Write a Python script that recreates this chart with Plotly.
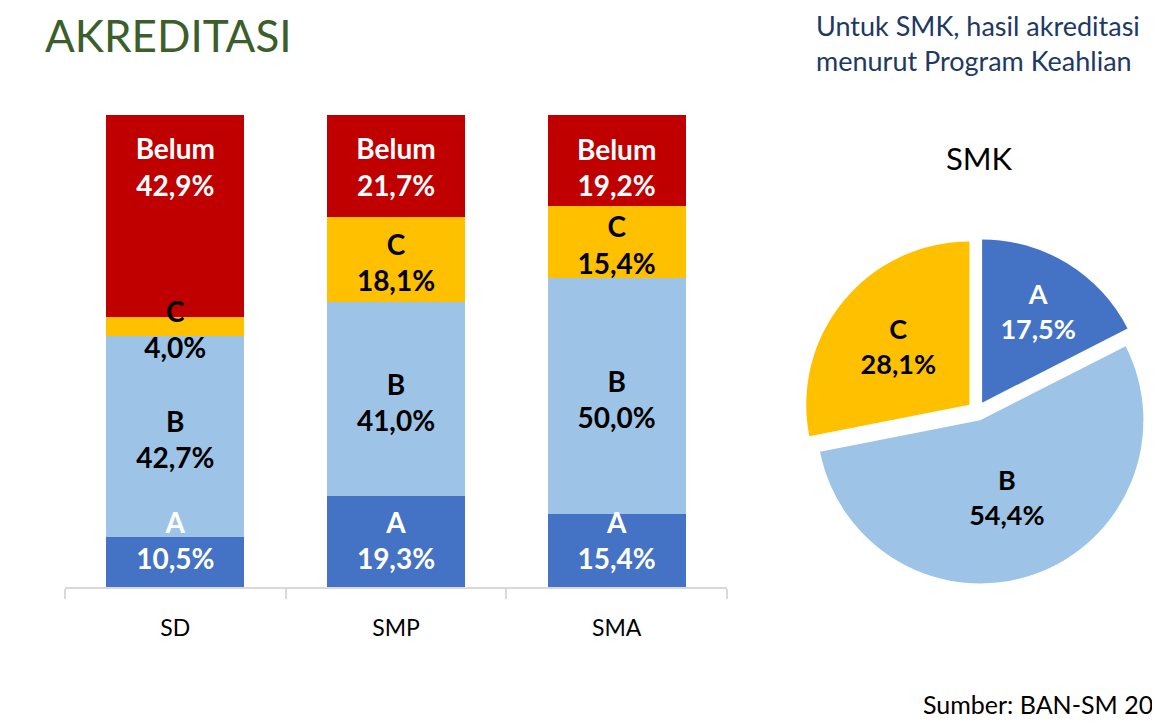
import plotly.graph_objects as go

# stacked bars: accreditation share per school level (percent)
levels = ["SD", "SMP", "SMA"]
grades = ["A", "B", "C", "Belum"]
share_a = [10.5, 19.3, 15.4]
share_b = [42.7, 41.0, 50.0]
share_c = [4.0, 18.1, 15.4]
share_belum = [42.9, 21.7, 19.2]

# SMK pie, by study programme
smk_labels = ["A", "B", "C"]
smk_values = [17.5, 54.4, 28.1]

COLORS = {"A": "#4472C4", "B": "#9DC3E6", "C": "#FFC000", "Belum": "#C00000"}
TEXT_COLORS = {"A": "white", "B": "black", "C": "black", "Belum": "white"}
LABEL_INSET = 10.5  # labels of first/last segment sit "inside base" / "inside end"
LABEL_DROP = 1.4    # two-line text sits a bit high when middle-centred

W, H = 1160, 725
PAGE_OFFSET = 8  # body margin of the html page


def px_x(p):
    return (p - PAGE_OFFSET) / W


def px_y(p):
    return 1 - (p - PAGE_OFFSET) / H


series = [share_a, share_b, share_c, share_belum]

fig = go.Figure()

for name, vals in zip(grades, series):
    fig.add_trace(
        go.Bar(
            name=name,
            x=levels,
            y=vals,
            marker=dict(color=COLORS[name], line=dict(width=0)),
            hoverinfo="skip",
        )
    )

# data labels on top of all bars
base = [0.0] * len(levels)
for i, (name, vals) in enumerate(zip(grades, series)):
    if i == 0:
        ys = [b + LABEL_INSET for b in base]
    elif i == len(grades) - 1:
        ys = [b + v - LABEL_INSET for b, v in zip(base, vals)]
    else:
        ys = [b + v / 2 for b, v in zip(base, vals)]
    fig.add_trace(
        go.Scatter(
            x=levels,
            y=[y - LABEL_DROP for y in ys],
            mode="text",
            text=["<b>%s</b><br><b>%s%%</b>" % (name, f"{v:.1f}".replace(".", ","))
                  for v in vals],
            textposition="middle center",
            textfont=dict(family="Lato", size=28, color=TEXT_COLORS[name]),
            hoverinfo="skip",
        )
    )
    base = [b + v for b, v in zip(base, vals)]

fig.add_trace(
    go.Pie(
        labels=smk_labels,
        values=smk_values,
        sort=False,
        direction="clockwise",
        rotation=0,
        pull=[0.06, 0.06, 0.06],
        marker=dict(colors=[COLORS[g] for g in smk_labels], line=dict(width=0)),
        texttemplate="<b>%{label}</b><br><b>%{value:.1f}%</b>",
        textposition="inside",
        insidetextorientation="horizontal",
        textfont=dict(family="Lato", size=27,
                      color=[TEXT_COLORS[g] for g in smk_labels]),
        domain=dict(x=[px_x(804), px_x(1150)], y=[px_y(584), px_y(238)]),
        hoverinfo="skip",
    )
)

fig.update_layout(
    width=W,
    height=H,
    margin=dict(l=0, r=0, t=0, b=0),
    paper_bgcolor="white",
    plot_bgcolor="white",
    barmode="stack",
    bargap=0.375,
    showlegend=False,
    separators=",.",
    font=dict(family="Lato", color="black"),
    xaxis=dict(
        domain=[px_x(65), px_x(727)],
        showline=True,
        linecolor="#D9D9D9",
        linewidth=2,
        ticks="outside",
        tickson="boundaries",
        ticklen=10,
        tickcolor="#D9D9D9",
        tickwidth=2,
        ticklabelstandoff=19,
        tickfont=dict(size=23, color="black"),
        showgrid=False,
        zeroline=False,
    ),
    yaxis=dict(
        domain=[px_y(587), px_y(115)],
        range=[0, 100],
        visible=False,
    ),
)

fig.add_annotation(
    x=px_x(43), y=px_y(35), xref="paper", yref="paper",
    xanchor="left", yanchor="middle", showarrow=False,
    text="AKREDITASI", font=dict(family="Lato", size=44, color="#3B5E2B"),
)
fig.add_annotation(
    x=px_x(814), y=px_y(43), xref="paper", yref="paper",
    xanchor="left", yanchor="middle", showarrow=False, align="left",
    text="Untuk SMK, hasil akreditasi<br>menurut Program Keahlian",
    font=dict(family="Lato", size=27, color="#203864"),
)
fig.add_annotation(
    x=px_x(979), y=px_y(158), xref="paper", yref="paper",
    xanchor="center", yanchor="middle", showarrow=False,
    text="SMK", font=dict(family="Lato", size=31, color="black"),
)
fig.add_annotation(
    x=px_x(921), y=px_y(704), xref="paper", yref="paper",
    xanchor="left", yanchor="middle", showarrow=False,
    text="Sumber: BAN-SM 20", font=dict(family="Lato", size=25, color="black"),
)

fig.write_html("out.html")
